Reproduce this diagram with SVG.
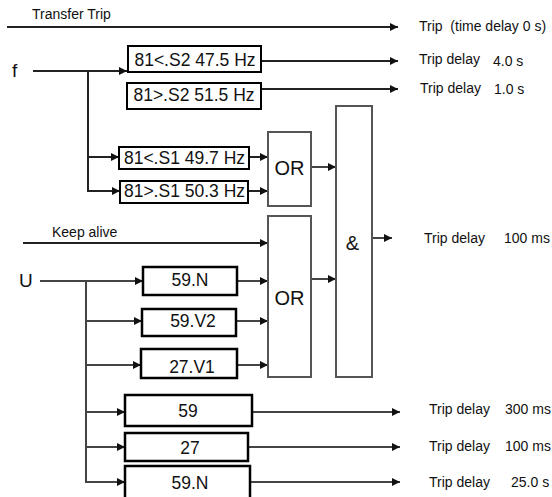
<svg xmlns="http://www.w3.org/2000/svg" width="552" height="497" viewBox="0 0 552 497">
<defs>
<marker id="ah" viewBox="0 0 10 10" refX="10" refY="5" markerWidth="9" markerHeight="8" markerUnits="userSpaceOnUse" orient="auto">
<path d="M0,0 L10,5 L0,10 z" fill="#111"/>
</marker>
</defs>
<style>
text{font-family:"Liberation Sans",Arial,sans-serif;fill:#111}
.lbl{font-size:14px}
.box{font-size:17.5px;text-anchor:middle}
.big{font-size:20px;text-anchor:middle}
.io{font-size:19px}
.b1{fill:#fff;stroke:#000;stroke-width:2}
.b2{fill:#fff;stroke:#000;stroke-width:2.5}
.g{fill:#fff;stroke:#555;stroke-width:2}
.c{fill:none;stroke:#222;stroke-width:2}
.cg{fill:none;stroke:#444;stroke-width:2}
.a{marker-end:url(#ah)}
</style>
<rect width="552" height="497" fill="#fff"/>
<g id="connectors">
<line class="c a" x1="7" y1="27" x2="398" y2="27"/>
<line class="c a" x1="33" y1="71" x2="127" y2="71"/>
<line class="c" x1="88" y1="71" x2="88" y2="192" stroke-width="2.5"/>
<line class="c a" x1="88" y1="157" x2="119" y2="157"/>
<line class="c a" x1="88" y1="191" x2="120" y2="191"/>
<line class="c a" x1="261" y1="61" x2="398" y2="61"/>
<line class="c a" x1="261" y1="89" x2="398" y2="89"/>
<line class="c a" x1="249" y1="157" x2="268" y2="157"/>
<line class="c a" x1="248" y1="191" x2="268" y2="191"/>
<line class="cg a" x1="311" y1="167" x2="336" y2="167"/>
<line class="cg a" x1="372" y1="238" x2="392" y2="238"/>
<line class="c a" x1="23" y1="243" x2="268" y2="243"/>
<line class="cg a" x1="311" y1="279" x2="336" y2="279"/>
<line class="cg a" x1="40" y1="281" x2="143" y2="281"/>
<line class="cg" x1="86" y1="281" x2="86" y2="483"/>
<line class="cg a" x1="86" y1="321" x2="142" y2="321"/>
<line class="cg a" x1="86" y1="365" x2="141" y2="365"/>
<line class="cg a" x1="86" y1="412" x2="125" y2="412"/>
<line class="cg a" x1="86" y1="447" x2="125" y2="447"/>
<line class="cg a" x1="86" y1="482" x2="125" y2="482"/>
<line class="cg a" x1="237" y1="281" x2="268" y2="281"/>
<line class="cg a" x1="236" y1="321" x2="268" y2="321"/>
<line class="cg a" x1="237" y1="365" x2="268" y2="365"/>
<line class="cg a" x1="252" y1="412" x2="400" y2="412"/>
<line class="cg a" x1="248" y1="447" x2="400" y2="447"/>
<line class="cg a" x1="250" y1="482" x2="400" y2="482"/>
</g>
<g id="inputs">
<text class="lbl" x="32" y="19">Transfer Trip</text>
<text class="io" x="12" y="77">f</text>
<text class="lbl" x="52" y="237">Keep alive</text>
<text class="io" x="19" y="287">U</text>
</g>
<g id="s2lo"><rect class="b1" x="128" y="46" width="133" height="26"/><text class="box" x="195" y="66">81&lt;.S2 47.5 Hz</text></g>
<g id="s2hi"><rect class="b1" x="127" y="83" width="134" height="26"/><text class="box" x="194" y="101">81&gt;.S2 51.5 Hz</text></g>
<g id="s1lo"><rect class="b1" x="119" y="147" width="130" height="22"/><text class="box" x="184.5" y="164">81&lt;.S1 49.7 Hz</text></g>
<g id="s1hi"><rect class="b1" x="120" y="181" width="128" height="22"/><text class="box" x="184.5" y="197">81&gt;.S1 50.3 Hz</text></g>
<g id="or1"><rect class="g" x="268" y="132" width="43" height="74"/><text class="big" x="289.5" y="175">OR</text></g>
<g id="or2"><rect class="g" x="268" y="216" width="43" height="161"/><text class="big" x="289.5" y="305">OR</text></g>
<g id="and"><rect class="g" x="336" y="106" width="36" height="271"/><text class="big" x="352.5" y="250">&amp;</text></g>
<g id="u59n"><rect class="b2" x="143" y="267" width="94" height="28"/><text class="box" x="190" y="286">59.N</text></g>
<g id="u59v2"><rect class="b2" x="142" y="309" width="94" height="27"/><text class="box" x="193" y="327">59.V2</text></g>
<g id="u27v1"><rect class="b2" x="141" y="349" width="96" height="29"/><text class="box" x="192" y="373">27.V1</text></g>
<g id="u59"><rect class="b2" x="125" y="395" width="127" height="31"/><text class="box" x="188" y="417">59</text></g>
<g id="u27"><rect class="b2" x="125" y="433" width="123" height="28"/><text class="box" x="190" y="454">27</text></g>
<g id="u59n2"><rect class="b2" x="125" y="466" width="125" height="34"/><text class="box" x="190" y="489">59.N</text></g>
<g id="outputs">
<text class="lbl" x="419" y="31">Trip&#160; (time delay 0 s)</text>
<text class="lbl" x="419" y="64">Trip delay</text><text class="lbl" x="493" y="66">4.0 s</text>
<text class="lbl" x="420" y="93">Trip delay</text><text class="lbl" x="494" y="94">1.0 s</text>
<text class="lbl" x="424" y="243">Trip delay</text><text class="lbl" x="504" y="243">100 ms</text>
<text class="lbl" x="429" y="414">Trip delay</text><text class="lbl" x="505" y="414">300 ms</text>
<text class="lbl" x="429" y="451">Trip delay</text><text class="lbl" x="505" y="451">100 ms</text>
<text class="lbl" x="429" y="487">Trip delay</text><text class="lbl" x="511" y="487">25.0 s</text>
</g>
</svg>
